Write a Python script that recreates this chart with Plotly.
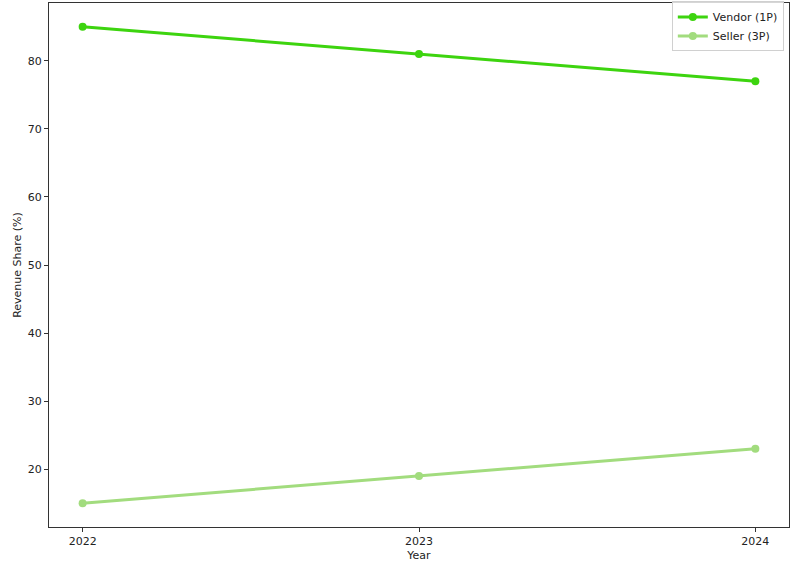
import plotly.graph_objects as go

years = [2022, 2023, 2024]
vendor_1p = [85, 81, 77]
seller_3p = [15, 19, 23]
y_ticks = [20, 30, 40, 50, 60, 70, 80]

fig = go.Figure()
fig.add_trace(go.Scatter(x=years, y=vendor_1p, name="Vendor (1P)", mode="lines+markers",
                         line=dict(color="#3dd40f", width=3), marker=dict(size=8, color="#3dd40f")))
fig.add_trace(go.Scatter(x=years, y=seller_3p, name="Seller (3P)", mode="lines+markers",
                         line=dict(color="#a2dc7e", width=3), marker=dict(size=8, color="#a2dc7e")))

axis_common = dict(showgrid=False, zeroline=False, showline=True, linecolor="#333333", linewidth=1,
                   mirror=True, ticks="outside", ticklen=4, tickcolor="#333333", automargin=False,
                   tickfont=dict(family="DejaVu Sans", size=11, color="#222222"))
fig.update_layout(
    width=800, height=573,
    margin=dict(l=49, r=11, t=3, b=46, autoexpand=False),
    paper_bgcolor="white", plot_bgcolor="white",
    font=dict(family="DejaVu Sans", size=11, color="#222222"),
    xaxis=dict(range=[2021.9, 2024.1], tickvals=years, ticktext=[str(y) for y in years],
               title=dict(text="Year", font=dict(size=11), standoff=4), **axis_common),
    yaxis=dict(range=[11.5, 88.5], tickvals=y_ticks,
               title=dict(text="Revenue Share (%)", font=dict(size=11), standoff=3), **axis_common),
    legend=dict(x=0.993, y=1.003, xanchor="right", yanchor="top", bgcolor="rgba(255,255,255,0.8)",
                bordercolor="#d0d0d0", borderwidth=1, font=dict(size=11), itemwidth=30,
                tracegroupgap=0),
    showlegend=True,
)
fig.write_html("out.html", config={"displayModeBar": False},
               post_script="document.body.style.margin='0';document.body.style.padding='0';")
